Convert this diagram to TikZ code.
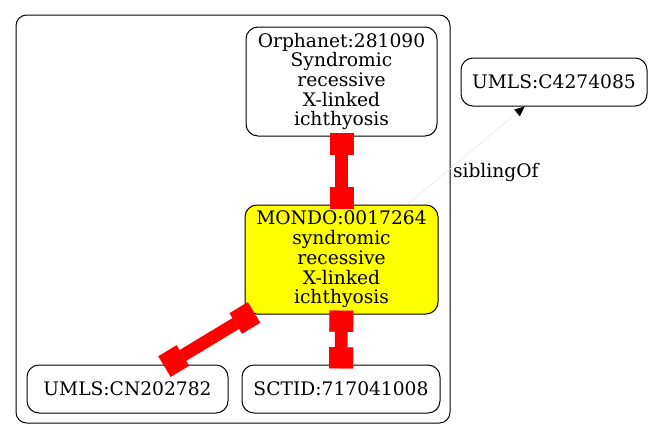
\documentclass[tikz,border=0pt]{standalone}
\usepackage{fontspec}
\setmainfont{DejaVu Serif}
\usetikzlibrary{arrows.meta}
\definecolor{termYellow}{RGB}{255,255,0}
\definecolor{linkRed}{RGB}{255,0,0}

\tikzset{
  term/.style={draw, rounded corners=9pt, line width=0.75pt, align=center, inner sep=0pt,
    font=\fontsize{14}{14.8}\selectfont},
  redlink/.style={draw=linkRed, line width=9.5pt, shorten <=-3pt, shorten >=-3pt,
    arrows={Square[length=16pt,width=18pt,line width=0.1pt]-Square[length=16pt,width=18pt,line width=0.1pt]}},
  siblink/.style={draw=gray!20, line width=0.4pt,
    -{Triangle[length=7.5pt,width=6.5pt,color=black]}}
}

\begin{document}
\begin{tikzpicture}[x=0.75pt,y=-0.75pt]
  \useasboundingbox (0,0) rectangle (653,440);

  % cluster
  \draw[rounded corners=8pt, line width=0.75pt] (16,15) rectangle (450,423);

  % terms
  \node[term, minimum width=143.25pt, minimum height=81.75pt] (orpha) at (341.5,81.5)
    {Orphanet:281090\\Syndromic\\recessive\\X-linked\\ichthyosis};
  \node[term, fill=termYellow, minimum width=144.75pt, minimum height=81.75pt] (mondo) at (341.5,259.5)
    {MONDO:0017264\\syndromic\\recessive\\X-linked\\ichthyosis};
  \node[term, minimum width=150.75pt, minimum height=36pt] (umlscn) at (127.5,389) {UMLS:CN202782};
  \node[term, minimum width=148.5pt, minimum height=36pt] (sctid) at (341,389) {SCTID:717041008};
  \node[term, minimum width=139.5pt, minimum height=36pt] (umlsc) at (554,82) {UMLS:C4274085};

  % links
  \draw[redlink] (orpha) -- (mondo);
  \draw[redlink] (mondo) -- (sctid);
  \draw[redlink] (mondo) -- (umlscn);
  \draw[siblink] (mondo) -- node[pos=0.33, anchor=west, inner sep=2pt, xshift=3pt,
    font=\fontsize{14}{14.8}\selectfont] (sibl) {siblingOf} (umlsc);
\end{tikzpicture}
\end{document}
